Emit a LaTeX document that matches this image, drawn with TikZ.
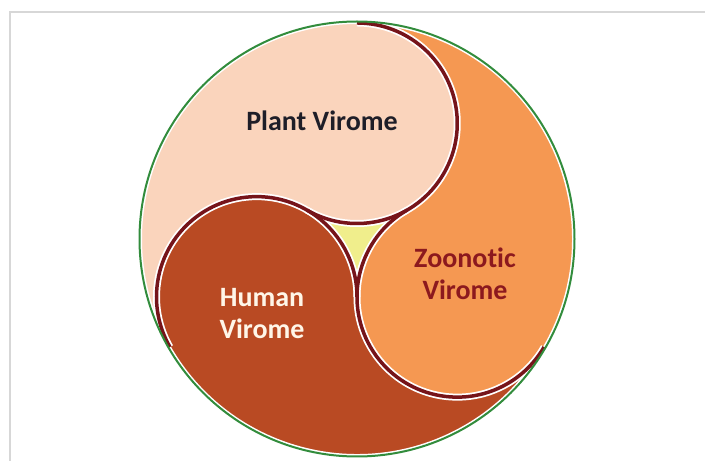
\documentclass[tikz,border=0pt]{standalone}
\usepackage{fontspec}
\setmainfont{Carlito}[Ligatures=NoCommon]
\definecolor{plantc}{RGB}{250,212,188}
\definecolor{zoonc}{RGB}{245,152,82}
\definecolor{humanc}{RGB}{185,74,35}
\definecolor{maroonc}{RGB}{118,20,26}
\definecolor{greenc}{RGB}{50,140,60}
\definecolor{yellowc}{RGB}{240,238,140}
\definecolor{darktext}{RGB}{30,30,40}
\definecolor{zoontext}{RGB}{140,25,30}
\definecolor{humantext}{RGB}{255,246,232}
\definecolor{framec}{RGB}{215,215,215}
\begin{document}
\begin{tikzpicture}[x=1pt,y=1pt,
  lobe/.style={draw=white, line width=2pt},
  halo/.style={draw=white, line width=7pt},
  rim/.style={draw=maroonc, line width=3.5pt},
  label/.style={font=\bfseries\fontsize{28}{32}\selectfont, align=center, inner sep=0pt}]
\useasboundingbox (0,0) rectangle (705,461);
\fill[white] (0,0) rectangle (705,461);
\draw[framec, line width=1.5pt] (10,0) -- (10,449) -- (705,449);
\def\R{216}\def\d{115.76}\def\r{100.25}
\coordinate (C) at (357,222);
\coordinate (P) at ([shift={(90:\d)}]C);
\coordinate (Z) at ([shift={(-30:\d)}]C);
\coordinate (H) at ([shift={(210:\d)}]C);
% centre triangle
\fill[yellowc] (C) circle[radius=\R];
% plant lobe
\fill[plantc, lobe] ([shift={(90:\R)}]C) arc[start angle=90,end angle=210,radius=\R]
  arc[start angle=210,end angle=60,radius=\r]
  arc[start angle=240,end angle=450,radius=\r] -- cycle;
% zoonotic lobe
\fill[zoonc, lobe] ([shift={(-30:\R)}]C) arc[start angle=-30,end angle=90,radius=\R]
  arc[start angle=90,end angle=-60,radius=\r]
  arc[start angle=120,end angle=330,radius=\r] -- cycle;
% human lobe
\fill[humanc, lobe] ([shift={(210:\R)}]C) arc[start angle=210,end angle=330,radius=\R]
  arc[start angle=330,end angle=180,radius=\r]
  arc[start angle=0,end angle=210,radius=\r] -- cycle;
% white halos
\draw[halo] ([shift={(240:\r)}]P) arc[start angle=240,end angle=450,radius=\r];
\draw[halo] ([shift={(120:\r)}]Z) arc[start angle=120,end angle=330,radius=\r];
\draw[halo] ([shift={(0:\r)}]H) arc[start angle=0,end angle=210,radius=\r];
% maroon rims
\draw[rim] ([shift={(240:\r)}]P) arc[start angle=240,end angle=450,radius=\r];
\draw[rim] ([shift={(120:\r)}]Z) arc[start angle=120,end angle=330,radius=\r];
\draw[rim] ([shift={(0:\r)}]H) arc[start angle=0,end angle=210,radius=\r];
% outer circle
\draw[greenc, line width=2pt] (C) circle[radius=\R+1.5];
% labels
\node[label, text=darktext] (plant) at (322,340) {Plant Virome};
\node[label, text=zoontext] (zoon) at (465,187) {Zoonotic\\Virome};
\node[label, text=humantext] (human) at (262,147) {Human\\Virome};
\end{tikzpicture}
\end{document}
